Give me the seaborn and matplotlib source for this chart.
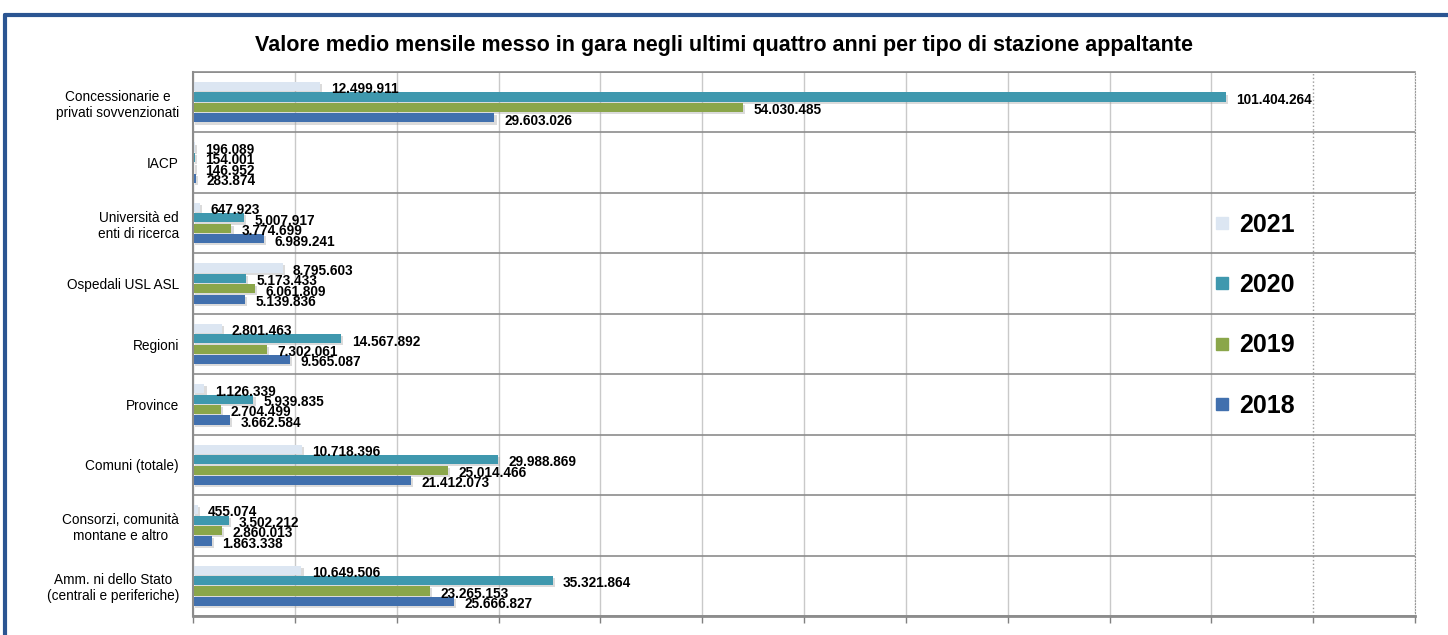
import numpy as np
import pandas as pd
import matplotlib
matplotlib.use("Agg")
import matplotlib.pyplot as plt
import matplotlib.patheffects as pe
from matplotlib.lines import Line2D
import seaborn as sns

# Data
categories = [
    "Concessionarie e\nprivati sovvenzionati",
    "IACP",
    "Università ed\nenti di ricerca",
    "Ospedali USL ASL",
    "Regioni",
    "Province",
    "Comuni (totale)",
    "Consorzi, comunità\nmontane e altro",
    "Amm. ni dello Stato\n(centrali e periferiche)",
]
years = ["2021", "2020", "2019", "2018"]
v2021 = [12499911, 196089, 647923, 8795603, 2801463, 1126339, 10718396, 455074, 10649506]
v2020 = [101404264, 154001, 5007917, 5173433, 14567892, 5939835, 29988869, 3502212, 35321864]
v2019 = [54030485, 146952, 3774699, 6061809, 7302061, 2704499, 25014466, 2860013, 23265153]
v2018 = [29603026, 283874, 6989241, 5139836, 9565087, 3662584, 21412073, 1863338, 25666827]
colors = ["#dce6f2", "#3f98ae", "#8aa64a", "#4170ae"]

df = pd.DataFrame({
    "categoria": categories * 4,
    "anno": [y for y in years for _ in categories],
    "valore": v2021 + v2020 + v2019 + v2018,
})

sns.set_style("white")
plt.rcParams["font.family"] = ["Liberation Sans", "DejaVu Sans"]
plt.rcParams["text.color"] = "black"
plt.rcParams["ytick.color"] = "black"
plt.rcParams["xtick.color"] = "black"

fig = plt.figure(figsize=(14.48, 6.35), dpi=100)
ax = fig.add_axes([193 / 1448, 1 - 616 / 635, (1415 - 193) / 1448, (616 - 72) / 635])

sns.barplot(data=df, y="categoria", x="valore", hue="anno", hue_order=years,
            order=categories, palette=colors, saturation=1, orient="h", width=0.69, gap=0.12,
            edgecolor="none", legend=False, ax=ax)

def fmt(v):
    return f"{int(round(v)):,}".replace(",", ".")

for cont in ax.containers:
    for bar in cont:
        bar.set_path_effects([pe.SimplePatchShadow(offset=(1.5, -1.5), shadow_rgbFace="#999999", alpha=0.35),
                              pe.Normal()])
        w = bar.get_width()
        yc = bar.get_y() + bar.get_height() / 2
        ax.annotate(fmt(w), (w, yc), xytext=(7.5, -2), textcoords="offset points",
                    ha="left", va="center", fontsize=9.8, fontweight="bold", color="black")

# axes styling
ax.set_xlim(0, 120e6)
ax.set_xticks(np.arange(0, 120e6 + 1, 10e6))
ax.set_xticklabels([])
ax.set_xlabel("")
ax.set_ylabel("")
ax.set_ylim(len(categories) - 0.5, -0.5)
ax.set_yticks(range(len(categories)))
ax.set_yticklabels(categories, fontsize=9.8, color="black")
for lab in ax.get_yticklabels():
    lab.set_multialignment("center")
ax.set_yticks(np.arange(-0.5, len(categories), 1), minor=True)
ax.tick_params(axis="y", which="major", length=0, pad=10)
ax.tick_params(axis="y", which="minor", length=5, color="#808080", width=1.2)
ax.tick_params(axis="x", which="major", length=5, color="#808080", width=1, bottom=True)

ax.grid(False)
ax.yaxis.grid(True, which="minor", color="#8c8c8c", linewidth=1.2)
ax.xaxis.grid(True, which="major", color="#c9c9c9", linewidth=1)
for tick, gl in zip(ax.get_xticks(), ax.get_xgridlines()):
    if tick > 100e6:
        gl.set_linestyle(":")
        gl.set_color("#9a9a9a")
ax.set_axisbelow(True)

for side in ["left", "top", "bottom"]:
    ax.spines[side].set_visible(True)
    ax.spines[side].set_color("#8c8c8c")
ax.spines["left"].set_linewidth(1.5)
ax.spines["top"].set_linewidth(1.2)
ax.spines["bottom"].set_linewidth(2)
ax.spines["right"].set_visible(True)
ax.spines["right"].set_color("#9a9a9a")
ax.spines["right"].set_linestyle(":")

# legend
handles = [Line2D([], [], marker="s", linestyle="none", markersize=8,
                  markerfacecolor=c, markeredgecolor=c) for c in colors]
fig.legend(handles, years, loc="upper left",
           bbox_to_anchor=(1199 / 1448, 1 - 200 / 635), bbox_transform=fig.transFigure,
           frameon=False, prop={"size": 18, "weight": "bold"},
           labelspacing=1.46, handletextpad=0.3, handlelength=0.8, borderpad=0)

fig.suptitle("Valore medio mensile messo in gara negli ultimi quattro anni per tipo di stazione appaltante",
             x=0.5, y=1 - 45 / 635, va="center", fontsize=15.5, fontweight="bold", color="black")

# outer frame (top and left edges)
fig.add_artist(Line2D([5 / 1448, 1.0], [1 - 15 / 635, 1 - 15 / 635], transform=fig.transFigure,
                      color="#2b5592", linewidth=3))
fig.add_artist(Line2D([5 / 1448, 5 / 1448], [0, 1 - 15 / 635], transform=fig.transFigure,
                      color="#2b5592", linewidth=3))

fig.savefig("out.png", dpi=100)
